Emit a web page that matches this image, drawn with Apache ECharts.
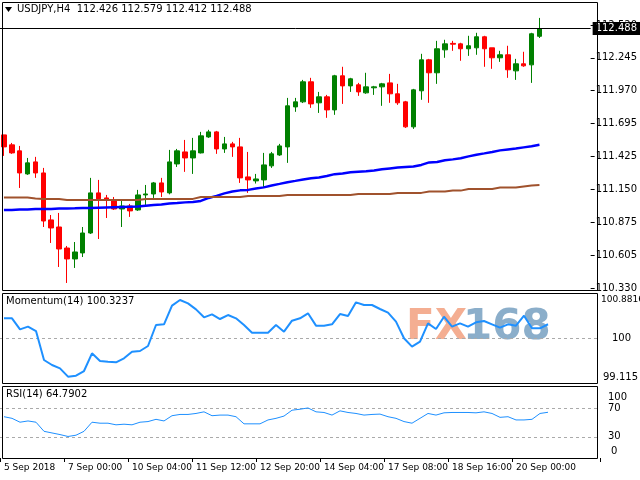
<!DOCTYPE html>
<html>
<head>
<meta charset="UTF-8">
<title>USDJPY,H4</title>
<script src="https://cdn.jsdelivr.net/npm/echarts@6/dist/echarts.min.js"></script>
<style>
  html, body { margin: 0; padding: 0; background: #fff; }
  #main { width: 640px; height: 480px; }
</style>
</head>
<body>
<div id="main"></div>
<script>
// 4H candles: [open, close, low, high]
var candles = [
  [111.605,111.505,111.430,111.605],[111.522,111.455,111.447,111.538],[111.472,111.288,111.163,111.513],
  [111.280,111.372,111.272,111.413],[111.380,111.288,111.247,111.422],[111.288,110.888,110.838,111.330],
  [110.897,110.830,110.705,110.938],[110.838,110.655,110.505,110.955],[110.663,110.572,110.372,110.680],
  [110.572,110.630,110.497,110.713],[110.622,110.788,110.588,110.838],[110.788,111.122,110.780,111.247],
  [111.122,111.072,110.738,111.230],[111.080,111.063,110.913,111.105],[111.063,110.988,110.980,111.088],
  [110.988,111.013,110.838,111.063],[111.013,110.972,110.922,111.030],[110.980,111.105,110.972,111.147],
  [111.105,111.113,111.005,111.188],[111.113,111.205,111.080,111.213],[111.205,111.130,111.088,111.247],
  [111.122,111.380,111.110,111.480],[111.363,111.472,111.338,111.488],[111.463,111.413,111.297,111.563],
  [111.413,111.472,111.280,111.580],[111.455,111.597,111.450,111.630],[111.588,111.630,111.580,111.647],
  [111.630,111.488,111.447,111.638],[111.488,111.530,111.455,111.588],[111.530,111.505,111.422,111.547],
  [111.505,111.247,111.205,111.580],[111.255,111.230,111.122,111.463],[111.222,111.238,111.200,111.280],
  [111.230,111.355,111.172,111.455],[111.347,111.447,111.330,111.463],[111.438,111.513,111.430,111.530],
  [111.505,111.847,111.372,111.913],[111.838,111.880,111.797,111.913],[111.880,112.047,111.870,112.063],
  [112.047,111.863,111.830,112.080],[111.872,111.922,111.788,111.963],[111.922,111.813,111.747,111.938],
  [111.813,112.097,111.772,112.105],[112.097,112.013,111.863,112.172],[112.013,112.072,111.963,112.080],
  [112.022,111.963,111.930,112.038],[111.955,112.005,111.947,112.122],[111.997,112.005,111.938,112.013],
  [112.005,112.030,111.847,112.038],[112.038,111.947,111.872,112.113],[111.947,111.872,111.855,112.030],
  [111.880,111.672,111.663,111.888],[111.672,111.980,111.655,111.988],[111.972,112.230,111.897,112.280],
  [112.230,112.122,111.872,112.238],[112.122,112.322,112.030,112.388],[112.313,112.363,112.247,112.397],
  [112.367,112.360,112.305,112.388],[112.363,112.322,112.222,112.372],[112.322,112.347,112.263,112.430],
  [112.330,112.422,112.272,112.455],[112.422,112.322,112.172,112.430],[112.330,112.247,112.155,112.330],
  [112.247,112.272,112.213,112.305],[112.272,112.147,112.080,112.347],[112.138,112.197,112.063,112.238],
  [112.197,112.180,112.172,112.297],[112.188,112.447,112.038,112.455],[112.426,112.488,112.412,112.579]
];

var maFast = [
  110.980,110.980,110.983,110.984,110.988,110.988,110.988,110.991,110.993,110.994,
  110.997,110.997,110.999,111.001,111.003,111.005,111.007,111.008,111.015,111.022,
  111.026,111.034,111.038,111.043,111.047,111.055,111.080,111.097,111.118,111.134,
  111.143,111.147,111.159,111.168,111.184,111.197,111.211,111.222,111.234,111.243,
  111.251,111.263,111.278,111.284,111.293,111.299,111.303,111.308,111.318,111.326,
  111.333,111.337,111.341,111.355,111.376,111.380,111.393,111.401,111.411,111.426,
  111.440,111.451,111.463,111.476,111.484,111.491,111.501,111.511,111.522
];

var maSlow = [
  111.083,111.083,111.083,111.083,111.076,111.072,111.072,111.072,111.063,111.063,
  111.063,111.063,111.063,111.063,111.063,111.063,111.063,111.063,111.072,111.072,
  111.072,111.072,111.072,111.072,111.072,111.088,111.088,111.088,111.088,111.088,
  111.088,111.097,111.097,111.097,111.097,111.097,111.105,111.105,111.105,111.105,
  111.105,111.105,111.105,111.105,111.105,111.113,111.113,111.113,111.113,111.113,
  111.122,111.122,111.122,111.122,111.133,111.133,111.133,111.141,111.141,111.155,
  111.155,111.155,111.155,111.166,111.166,111.166,111.176,111.184,111.188
];

var momentum = [
  100.460,100.460,100.206,100.268,100.168,99.501,99.385,99.309,99.117,99.140,
  99.247,99.654,99.478,99.462,99.447,99.539,99.692,99.708,99.823,100.306,
  100.322,100.751,100.882,100.805,100.667,100.483,100.552,100.444,100.536,100.460,
  100.306,100.130,100.130,100.130,100.306,100.153,100.406,100.460,100.575,100.291,
  100.291,100.322,100.559,100.513,100.828,100.767,100.767,100.675,100.590,100.383,
  100.000,99.808,99.923,100.345,100.214,100.498,100.268,100.345,100.268,100.368,
  100.398,100.322,100.245,100.322,100.291,100.521,100.230,100.230,100.3237
];

var rsi = [
  58.5,56.2,50.7,52.5,50.7,37.8,35.5,33.2,30.5,32.3,
  37.8,50.7,49.3,49.3,47.0,47.9,47.0,50.7,51.6,54.8,
  52.5,59.9,61.7,61.7,63.1,65.4,59.9,60.8,60.8,58.5,
  48.4,48.4,48.4,53.9,56.2,59.4,67.7,69.1,70.9,65.4,
  64.5,60.8,66.8,64.5,63.1,60.8,61.7,62.2,58.5,56.2,
  51.6,49.3,56.2,63.1,60.8,64.0,64.5,64.5,64.5,64.0,
  65.4,63.1,57.6,58.5,53.9,53.9,54.8,63.1,64.79
];

// time labels, one every 8 bars
var timeLabels = ['5 Sep 2018','7 Sep 00:00','10 Sep 04:00','11 Sep 12:00','12 Sep 20:00',
                  '14 Sep 04:00','17 Sep 08:00','18 Sep 16:00','20 Sep 00:00'];
var labelStep = 8;
var slotCount = 75;

var priceTicks = ['110.330','110.605','110.875','111.150','111.425','111.695','111.970','112.245','112.520'];
var priceMin = 110.330, priceMax = 112.520;
var priceStep = (priceMax - priceMin) / 8;
var lastPrice = 112.488;

var categories = [];
for (var i = 0; i < slotCount; i++) {
    categories.push(i % labelStep === 0 && timeLabels[i / labelStep] ? timeLabels[i / labelStep] : '');
}

var font = 'DejaVu Sans';
var myChart = echarts.init(document.getElementById('main'));

function xAx(idx, show) {
    return {
        type: 'category', gridIndex: idx, data: categories, boundaryGap: true,
        axisLine: {show: false}, splitLine: {show: false},
        axisTick: {show: show, interval: function (i, v) { return v !== ''; }, length: 4, lineStyle: {color: '#000'}},
        axisLabel: {show: show, interval: 0, align: 'left', margin: 5, color: '#000', fontFamily: font, fontSize: 9}
    };
}

function frame(y, h) {
    return {type: 'rect', shape: {x: 2.5, y: y + 0.5, width: 595, height: h},
            style: {fill: 'none', stroke: '#000', lineWidth: 1}, z: 10, silent: true};
}

var hidden = {color: 'rgba(0,0,0,0)', width: 0};

var option = {
    animation: false,
    backgroundColor: '#fff',
    textStyle: {fontFamily: font},
    grid: [
        {left: 0, width: 600, top: 25, height: 263},
        {left: 0, width: 600, top: 294, height: 88},
        {left: 0, width: 600, top: 386, height: 72}
    ],
    xAxis: [xAx(0, false), xAx(1, false), xAx(2, true)],
    yAxis: [
        {
            type: 'value', gridIndex: 0, position: 'right', scale: true,
            min: priceMin, max: priceMax, interval: priceStep,
            axisLine: {show: false}, splitLine: {show: false},
            axisTick: {show: true, length: 4, lineStyle: {color: '#000'}},
            axisLabel: {margin: 5, color: '#000', fontFamily: font, fontSize: 10,
                formatter: function (v) { return priceTicks[Math.round((v - priceMin) / priceStep)] || ''; }}
        },
        {
            type: 'value', gridIndex: 1, position: 'right', min: 98.994, max: 101.020,
            axisLine: {show: false}, splitLine: {show: false}, axisTick: {show: false}, axisLabel: {show: false}
        },
        {
            type: 'value', gridIndex: 2, position: 'right', min: 0, max: 102,
            axisLine: {show: false}, splitLine: {show: false}, axisTick: {show: false}, axisLabel: {show: false}
        }
    ],
    series: [
        {
            type: 'candlestick', xAxisIndex: 0, yAxisIndex: 0, data: candles, barWidth: 5, clip: false,
            itemStyle: {color: '#008000', color0: '#ff0000', borderColor: '#008000', borderColor0: '#ff0000', borderWidth: 1},
            markLine: {
                silent: true, symbol: 'none', animation: false,
                lineStyle: {color: '#000', type: 'solid', width: 1},
                label: {position: 'end', distance: 2, formatter: String(lastPrice), color: '#fff',
                        backgroundColor: '#000', padding: [2, 3, 1, 3], fontFamily: font, fontSize: 10},
                data: [{yAxis: lastPrice}]
            },
            z: 3
        },
        {type: 'line', xAxisIndex: 0, yAxisIndex: 0, data: maFast, symbol: 'none',
         lineStyle: {color: '#0000ff', width: 2.5}, z: 4},
        {type: 'line', xAxisIndex: 0, yAxisIndex: 0, data: maSlow, symbol: 'none',
         lineStyle: {color: '#a0522d', width: 2}, z: 4},
        {
            type: 'line', xAxisIndex: 1, yAxisIndex: 1, data: momentum, symbol: 'none',
            lineStyle: {color: '#1e90ff', width: 2}, z: 5,
            markLine: {
                silent: true, symbol: 'none', animation: false,
                label: {position: 'end', distance: 3, color: '#000', fontFamily: font, fontSize: 10,
                        formatter: function (p) { return p.name; }},
                data: [
                    {yAxis: 100, name: '100', lineStyle: {color: '#aaa', type: [3, 3], width: 1}, label: {distance: 12}},
                    {yAxis: 100.8816, name: '100.8816', lineStyle: hidden, label: {distance: 1, fontSize: 9}},
                    {yAxis: 99.115, name: '99.115', lineStyle: hidden}
                ]
            }
        },
        {
            type: 'line', xAxisIndex: 2, yAxisIndex: 2, data: rsi, symbol: 'none',
            lineStyle: {color: '#1e90ff', width: 1}, z: 5,
            markLine: {
                silent: true, symbol: 'none', animation: false,
                label: {position: 'end', distance: 8, color: '#000', fontFamily: font, fontSize: 10,
                        formatter: function (p) { return p.name; }},
                data: [
                    {yAxis: 70, name: '70', lineStyle: {color: '#aaa', type: [3, 3], width: 1}},
                    {yAxis: 30, name: '30', lineStyle: {color: '#aaa', type: [3, 3], width: 1}},
                    {yAxis: 86, name: '100', lineStyle: hidden},
                    {yAxis: 10, name: '0', lineStyle: hidden, label: {distance: 11}}
                ]
            }
        }
    ],
    graphic: [
        frame(2, 288), frame(293, 90), frame(386, 72),
        {type: 'polygon', shape: {points: [[5, 7], [12, 7], [8.5, 12]]}, style: {fill: '#000'}, z: 11},
        {type: 'text', left: 17, top: 4, z: 11,
         style: {text: 'USDJPY,H4  112.426 112.579 112.412 112.488', fill: '#000', font: '10px ' + font}},
        {type: 'text', left: 6, top: 296, z: 11,
         style: {text: 'Momentum(14) 100.3237', fill: '#000', font: '10px ' + font}},
        {type: 'text', left: 6, top: 389, z: 11,
         style: {text: 'RSI(14) 64.7902', fill: '#000', font: '10px ' + font}},
        {type: 'text', left: 406, top: 307, z: 1,
         style: {text: 'FX', fill: 'rgba(240,140,100,0.7)', font: 'bold 42px ' + font}},
        {type: 'text', left: 463, top: 307, z: 1,
         style: {text: '168', fill: 'rgba(90,140,180,0.7)', font: 'bold 42px ' + font}}
    ]
};

myChart.setOption(option);
</script>
</body>
</html>
